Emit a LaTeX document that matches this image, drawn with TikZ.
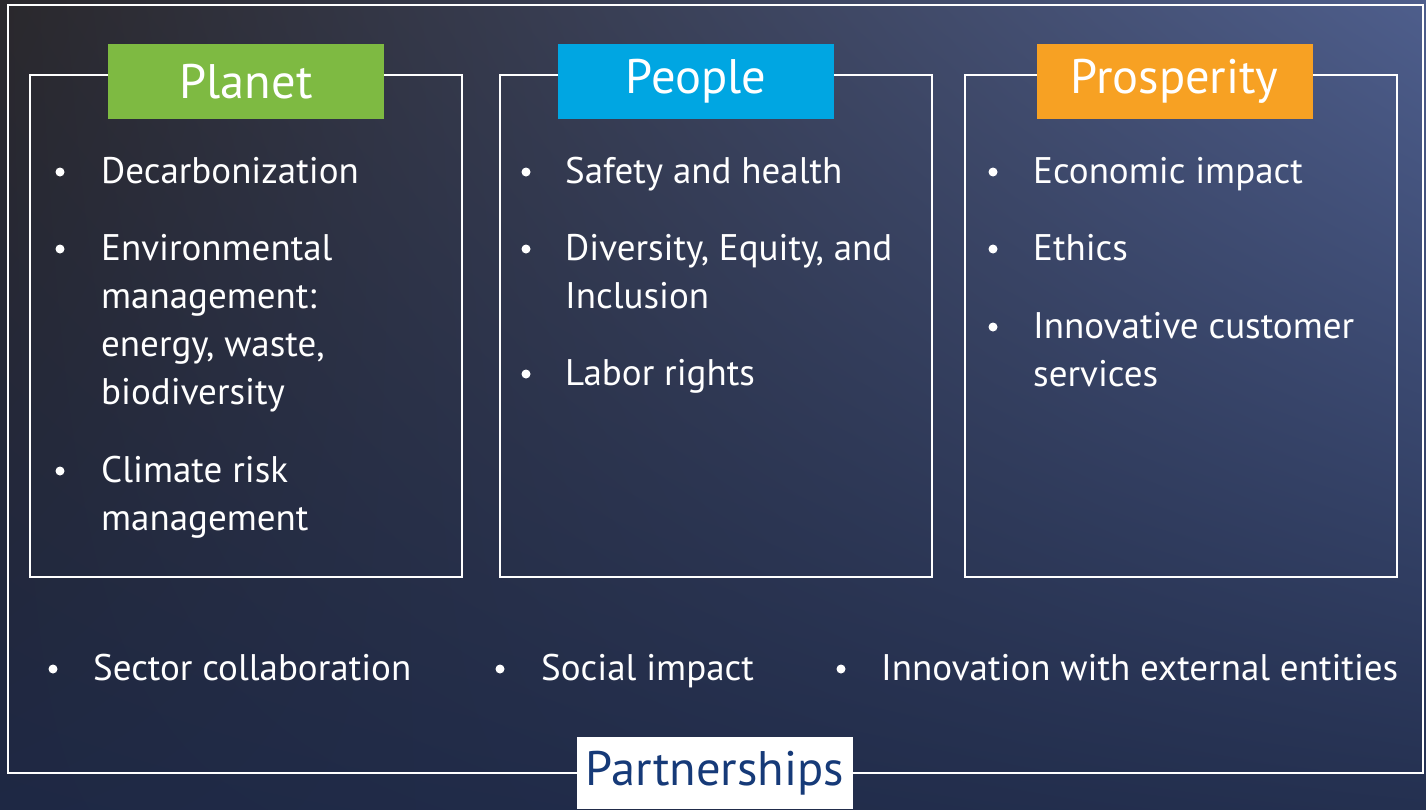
\documentclass[tikz,border=0pt]{standalone}
\usepackage{fontspec}
\setmainfont{PT Sans}
\usetikzlibrary{shadings}
\definecolor{bgUL}{RGB}{42,40,44}
\definecolor{bgUR}{RGB}{78,94,140}
\definecolor{bgLL}{RGB}{30,40,68}
\definecolor{bgLR}{RGB}{36,48,80}
\definecolor{planetC}{RGB}{126,186,66}
\definecolor{peopleC}{RGB}{0,166,226}
\definecolor{prospC}{RGB}{247,161,35}
\definecolor{partC}{RGB}{22,58,120}
\begin{document}
\begin{tikzpicture}[x=1pt,y=-1pt,
  frame/.style={draw=white, line width=2pt, inner sep=0},
  hdr/.style={minimum width=276, minimum height=75, inner sep=0, text=white, font=\fontsize{48.5}{56}\selectfont},
  itemtext/.style={anchor=base west, align=left, text=white, inner sep=0, font=\fontsize{37}{48}\selectfont},
  dot/.style={circle, fill=white, inner sep=0, minimum size=9}]
\useasboundingbox (0,0) rectangle (1426,809);
\shade[upper left=bgUL, upper right=bgUR, lower left=bgLL, lower right=bgLR] (0,0) rectangle (1426,809);
% outer frame
\node[frame, minimum width=1415, minimum height=768] (outer) at (715,389) {};
% boxes
\node[frame, minimum width=432, minimum height=502] (box1) at (246,326) {};
\node[frame, minimum width=432, minimum height=502] (box2) at (716,326) {};
\node[frame, minimum width=432, minimum height=502] (box3) at (1181,326) {};
% headers
\node[hdr, fill=planetC] (planet) at (246,81.5) {Planet};
\node[hdr, fill=peopleC] (people) at (696,81.5) {People};
\node[hdr, fill=prospC] (prosp) at (1174.5,81.5) {Prosperity};
% Planet items (base anchor = last line's baseline)
\node[dot] (d11) at (60,172) {};
\node[itemtext] (i11) at (101,183) {Decarbonization};
\node[dot] (d12) at (60,249) {};
\node[itemtext] (i12) at (101,404) {Environmental\\management:\\energy, waste,\\biodiversity};
\node[dot] (d13) at (60,471) {};
\node[itemtext] (i13) at (101,530) {Climate risk\\management};
% People items
\node[dot] (d21) at (526,172) {};
\node[itemtext] (i21) at (565,183) {Safety and health};
\node[dot] (d22) at (526,249) {};
\node[itemtext] (i22) at (565,308) {Diversity, Equity, and\\Inclusion};
\node[dot] (d23) at (526,374) {};
\node[itemtext] (i23) at (565,385) {Labor rights};
% Prosperity items
\node[dot] (d31) at (993,172) {};
\node[itemtext] (i31) at (1033,183) {Economic impact};
\node[dot] (d32) at (993,249) {};
\node[itemtext] (i32) at (1033,260) {Ethics};
\node[dot] (d33) at (993,327) {};
\node[itemtext] (i33) at (1033,386) {Innovative customer\\services};
% bottom row
\node[dot] (b1) at (53,669) {};
\node[itemtext] (t1) at (93,680) {Sector collaboration};
\node[dot] (b2) at (500,669) {};
\node[itemtext] (t2) at (541,680) {Social impact};
\node[dot] (b3) at (841,669) {};
\node[itemtext] (t3) at (881,680) {Innovation with external entities};
% partnerships
\node[fill=white, minimum width=276, minimum height=72, inner sep=0, text=partC, font=\fontsize{48.5}{56}\selectfont] (part) at (715,773) {Partnerships};
\end{tikzpicture}
\end{document}
